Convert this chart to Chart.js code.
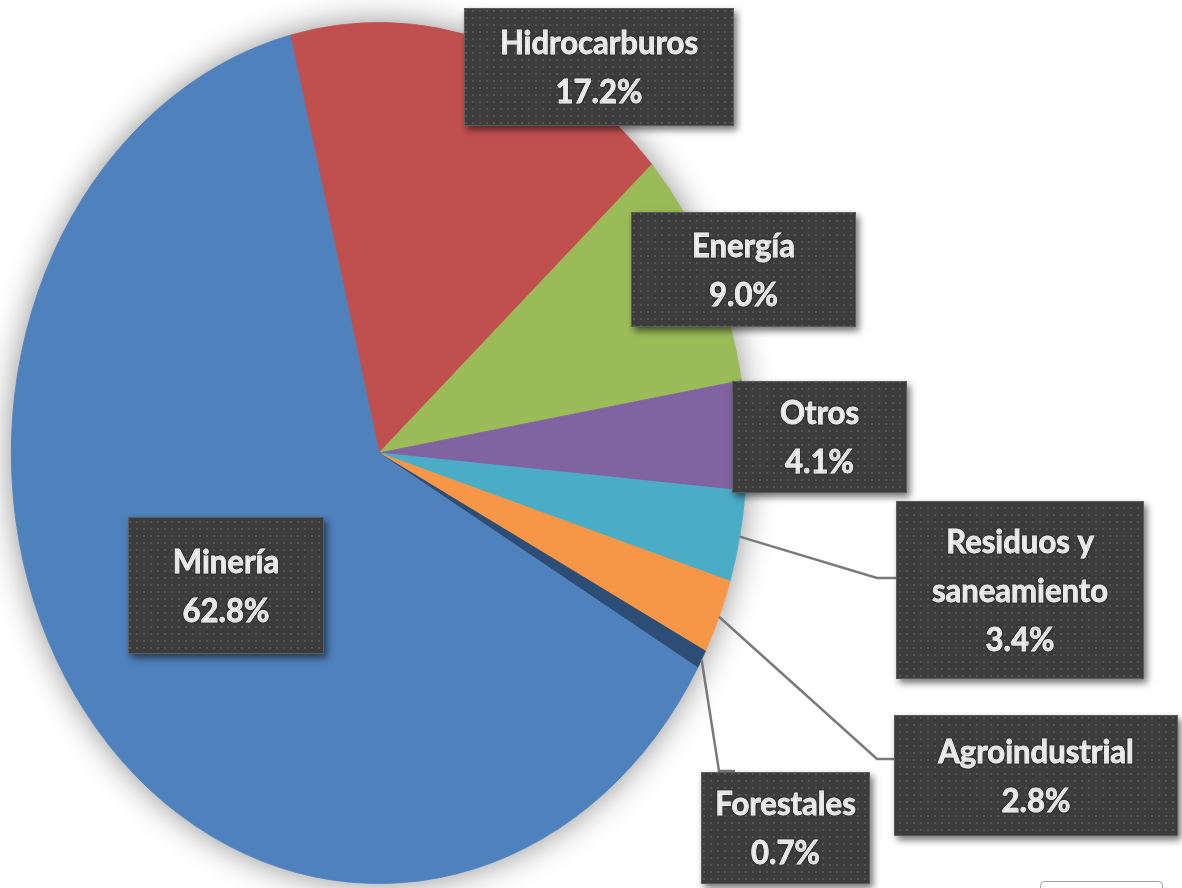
<!DOCTYPE html>
<html lang="es">
<head>
<meta charset="utf-8">
<title>Distribución por sector</title>
<script src="https://cdn.jsdelivr.net/npm/chart.js@4.4.1/dist/chart.umd.min.js"></script>
<style>
  html, body { margin: 0; padding: 0; background: #fff; }
  canvas { display: block; }
</style>
</head>
<body>
<canvas id="sectorChart" width="1182" height="888"></canvas>
<script>
const sectors = ['Hidrocarburos', 'Energía', 'Otros', 'Residuos y saneamiento', 'Agroindustrial', 'Forestales', 'Minería'];
const shares = [17.2, 9.0, 4.1, 3.4, 2.8, 0.7, 62.8];
const sliceColors = ['#C0504D', '#9BBB59', '#8064A2', '#4BACC6', '#F79646', '#2C4D75', '#4F81BD'];

// the original is squashed sideways, so the pie comes out as an ellipse
const squeeze = 0.854;
const pieX = 379;        // where the pie centre lands on the page
const textScale = 0.97;  // labels are a bit condensed too
const capH = 23;
const lineGap = 49;

// label boxes in page pixels [left, top, right, bottom], plus leader line elbows
const boxes = [
    { box: [464, 8, 734, 126] },
    { box: [631, 212, 856, 327] },
    { box: [732, 381, 907, 493] },
    { box: [896, 501, 1144, 679], elbow: [877, 578], end: [896, 578] },
    { box: [894, 715, 1178, 836], elbow: [877, 759], end: [894, 759] },
    { box: [701, 772, 870, 884], elbow: [719, 771], end: [735, 771] },
    { box: [128, 517, 324, 654] }
];

function dotPattern(ctx) {
    const tile = document.createElement('canvas');
    tile.width = 7;
    tile.height = 7;
    const t = tile.getContext('2d');
    t.fillStyle = '#3c3c3c';
    t.fillRect(0, 0, 7, 7);
    t.fillStyle = '#545454';
    t.fillRect(3, 3, 2, 2);
    return ctx.createPattern(tile, 'repeat');
}

function wrapText(ctx, text, maxW) {
    const words = text.split(' ');
    const lines = [];
    let cur = '';
    words.forEach(w => {
        const test = cur ? cur + ' ' + w : w;
        if (cur && ctx.measureText(test).width * textScale > maxW) {
            lines.push(cur);
            cur = w;
        } else {
            cur = test;
        }
    });
    lines.push(cur);
    return lines;
}

const squeezePie = {
    id: 'squeezePie',
    beforeDatasetsDraw(chart) {
        const ctx = chart.ctx;
        const arc = chart.getDatasetMeta(0).data[0];
        ctx.save();
        ctx.translate(pieX, 0);
        ctx.scale(squeeze, 1);
        ctx.translate(-arc.x, 0);
        // soft halo under the pie
        ctx.save();
        ctx.shadowColor = 'rgba(0, 0, 0, 0.45)';
        ctx.shadowBlur = 32;
        ctx.fillStyle = '#fff';
        ctx.beginPath();
        ctx.arc(arc.x, arc.y, arc.outerRadius, 0, Math.PI * 2);
        ctx.fill();
        ctx.restore();
    },
    afterDatasetsDraw(chart) {
        chart.ctx.restore();
    }
};

const labelBoxes = {
    id: 'labelBoxes',
    afterDraw(chart) {
        const ctx = chart.ctx;
        const arcs = chart.getDatasetMeta(0).data;
        const values = chart.data.datasets[0].data;
        const names = chart.data.labels;

        // leader lines
        ctx.save();
        ctx.strokeStyle = '#7a7a7a';
        ctx.lineWidth = 2.5;
        boxes.forEach((b, i) => {
            if (!b.elbow) return;
            const a = arcs[i];
            const mid = (a.startAngle + a.endAngle) / 2;
            const sx = pieX + Math.cos(mid) * a.outerRadius * squeeze;
            const sy = a.y + Math.sin(mid) * a.outerRadius;
            ctx.beginPath();
            ctx.moveTo(sx, sy);
            ctx.lineTo(b.elbow[0], b.elbow[1]);
            ctx.lineTo(b.end[0], b.end[1]);
            ctx.stroke();
        });
        ctx.restore();

        const pattern = dotPattern(ctx);
        boxes.forEach((b, i) => {
            const [x0, y0, x1, y1] = b.box;
            const w = x1 - x0, h = y1 - y0;

            ctx.save();
            ctx.shadowColor = 'rgba(0, 0, 0, 0.55)';
            ctx.shadowBlur = 7;
            ctx.shadowOffsetX = 3;
            ctx.shadowOffsetY = 4;
            ctx.fillStyle = '#3c3c3c';
            ctx.fillRect(x0, y0, w, h);
            ctx.restore();

            ctx.fillStyle = pattern;
            ctx.fillRect(x0, y0, w, h);
            ctx.strokeStyle = '#5c5c5c';
            ctx.lineWidth = 1;
            ctx.strokeRect(x0 + 0.5, y0 + 0.5, w - 1, h - 1);

            ctx.save();
            ctx.font = 'bold 32px Lato';
            ctx.fillStyle = '#fff';
            ctx.strokeStyle = '#fff';
            ctx.lineWidth = 0.8;
            ctx.textAlign = 'center';
            ctx.textBaseline = 'alphabetic';
            ctx.shadowColor = 'rgba(0, 0, 0, 0.6)';
            ctx.shadowBlur = 2;
            const lines = wrapText(ctx, names[i], w - 28);
            lines.push(values[i].toFixed(1) + '%');
            const cy = (y0 + y1) / 2;
            const first = cy - (capH + lineGap * (lines.length - 1)) / 2 + capH;
            const cx = (x0 + x1) / 2;
            lines.forEach((ln, k) => {
                ctx.save();
                ctx.translate(cx, first + k * lineGap);
                ctx.scale(textScale, 1);
                ctx.fillText(ln, 0, 0);
                ctx.strokeText(ln, 0, 0);
                ctx.restore();
            });
            ctx.restore();
        });

        // stray frame peeking in at the bottom right
        ctx.save();
        ctx.strokeStyle = '#a0a0a0';
        ctx.lineWidth = 1;
        ctx.beginPath();
        ctx.roundRect(1040.5, 881.5, 122, 16, 4);
        ctx.stroke();
        ctx.restore();
    }
};

new Chart(document.getElementById('sectorChart').getContext('2d'), {
    type: 'pie',
    data: {
        labels: sectors,
        datasets: [{
            data: shares,
            backgroundColor: sliceColors,
            borderColor: sliceColors,
            borderWidth: 1
        }]
    },
    options: {
        responsive: false,
        animation: false,
        events: [],
        rotation: -14,
        layout: { padding: { left: 0, right: 320, top: 22, bottom: 4 } },
        plugins: {
            legend: { display: false },
            tooltip: { enabled: false }
        }
    },
    plugins: [squeezePie, labelBoxes]
});
</script>
</body>
</html>
